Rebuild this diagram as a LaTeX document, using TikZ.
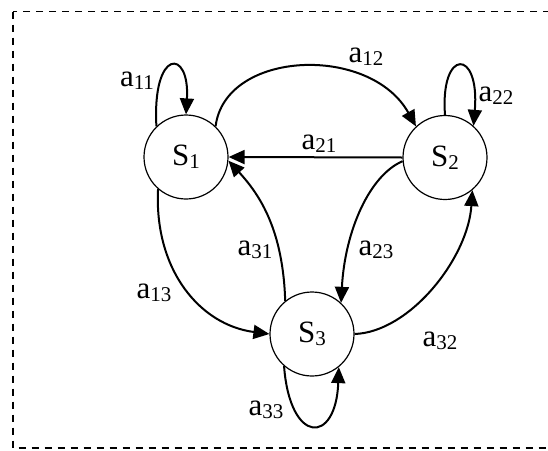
\documentclass[tikz,border=0pt]{standalone}
\usepackage{fontspec}
\setmainfont{Liberation Serif}
\usetikzlibrary{arrows.meta}
\newcommand\lbl[2]{#1\raisebox{-3pt}{\fontsize{21}{21}\selectfont #2}}
\begin{document}
\begin{tikzpicture}[x=1pt,y=-1pt,
  state/.style={circle,draw,line width=1.2pt,minimum size=84pt,inner sep=0pt,font=\fontsize{31}{36}\selectfont},
  lab/.style={inner sep=0pt,font=\fontsize{31}{36}\selectfont},
  edge/.style={line width=2pt,-{Triangle[length=16pt,width=14pt]}}]
\useasboundingbox (0,0) rectangle (548,450);
\clip (0,0) rectangle (548,450);
\draw[line width=1.3pt,dash pattern=on 7pt off 6pt] (13,11.5) rectangle (560,448);

\node[state] (S1) at (186,157) {\lbl{S}{1}};
\node[state] (S2) at (445,157.5) {\lbl{S}{2}};
\node[state] (S3) at (312,334) {\lbl{S}{3}};

% self loops
\draw[edge] (S1.134) .. controls (152,48) and (190,48) .. (S1.90);
\draw[edge] (S2.90) .. controls (440,48) and (480,48) .. (S2.48);
\draw[edge] (S3.229) .. controls (290,445) and (336,445) .. (S3.-51);

% transitions
\draw[edge] (S1.46) .. controls (225,50) and (370,44) .. (S2.133);
\draw[edge] (S2.180) -- (S1.0);
\draw[edge] (S2.185) .. controls (370,175) and (345,230) .. (S3.47);
\draw[edge] (S3.129) .. controls (283,230) and (260,195) .. (S1.-5);
\draw[edge] (S1.229) .. controls (154,270) and (200,325) .. (S3.180);
\draw[edge] (S3.0) .. controls (410,332) and (468,258) .. (S2.-50);

% labels
\node[lab] (l11) at (137,81) {\lbl{a}{11}};
\node[lab] (l12) at (366,57) {\lbl{a}{12}};
\node[lab] (l22) at (496,96) {\lbl{a}{22}};
\node[lab] (l21) at (319,144) {\lbl{a}{21}};
\node[lab] (l23) at (376,250) {\lbl{a}{23}};
\node[lab] (l31) at (255,250) {\lbl{a}{31}};
\node[lab] (l13) at (154,293) {\lbl{a}{13}};
\node[lab] (l32) at (440,341) {\lbl{a}{32}};
\node[lab] (l33) at (266,410) {\lbl{a}{33}};
\end{tikzpicture}
\end{document}
